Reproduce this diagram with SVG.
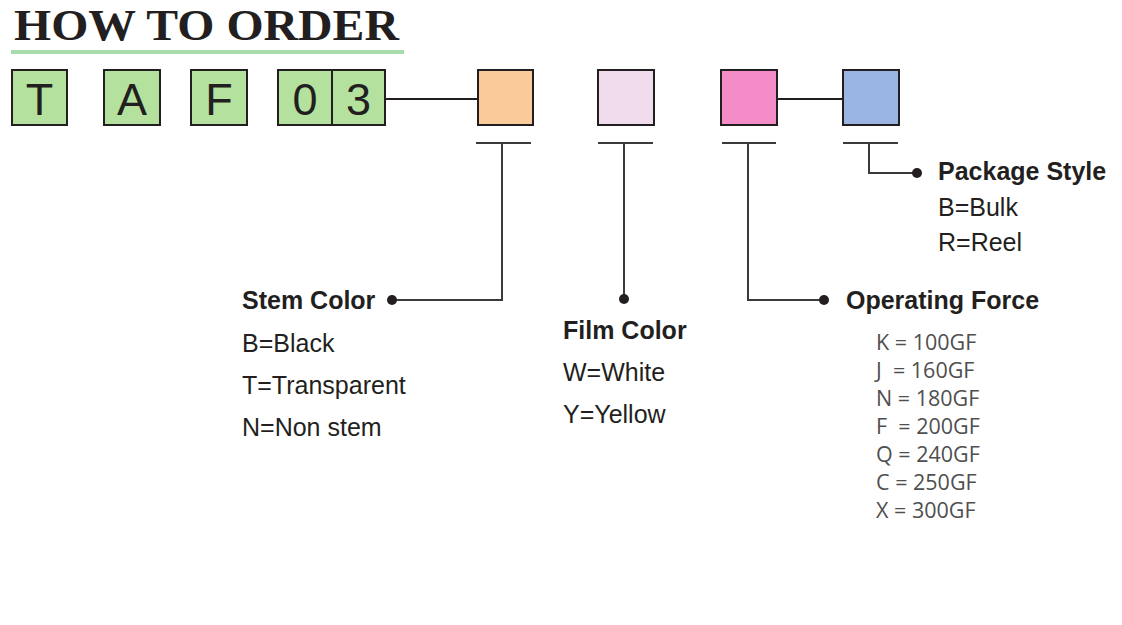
<svg xmlns="http://www.w3.org/2000/svg" width="1122" height="625" viewBox="0 0 1122 625">
<style>
.box{stroke:#231f20;stroke-width:2}
.g{fill:#b4e19d}
.letter{font-family:"Liberation Sans",Arial,sans-serif;font-size:45px;fill:#231f20;text-anchor:middle}
.ln{fill:none;stroke:#231f20;stroke-width:2}
.tee{fill:none;stroke:#3a3a3a;stroke-width:2}
.dot{fill:#231f20}
.h{font-family:"Liberation Sans",Arial,sans-serif;font-size:25px;font-weight:bold;fill:#231f20}
.t{font-family:"Liberation Sans",Arial,sans-serif;font-size:25px;fill:#231f20}
.v{font-family:"Open Sans","Noto Sans",sans-serif;font-size:21.5px;fill:#4f4f4f;white-space:pre}
</style>
<rect width="1122" height="625" fill="#ffffff"/>
<g id="title">
<text x="14" y="40" font-family="'Liberation Serif','Times New Roman',serif" font-size="44.5" font-weight="bold" fill="#231f20" textLength="385" lengthAdjust="spacingAndGlyphs">HOW TO ORDER</text>
<rect x="11" y="50" width="393" height="4" fill="#a8dcaa"/>
</g>
<g id="connectors">
<line class="ln" x1="385" y1="99" x2="478" y2="99"/>
<line class="ln" x1="777" y1="99" x2="843" y2="99"/>
<path class="tee" d="M476 143H531M502 143V300H392"/>
<path class="tee" d="M598 143H653M624 143V299"/>
<path class="tee" d="M722 143H776M748 143V300H824"/>
<path class="tee" d="M843 143H898M869 143V173H917"/>
<circle class="dot" cx="392" cy="300" r="5"/>
<circle class="dot" cx="624" cy="299" r="5"/>
<circle class="dot" cx="824" cy="300" r="5"/>
<circle class="dot" cx="917" cy="173" r="5"/>
</g>
<g id="box-T"><rect class="box g" x="12" y="70" width="55" height="55"/><text class="letter" x="39.5" y="115">T</text></g>
<g id="box-A"><rect class="box g" x="104" y="70" width="56" height="55"/><text class="letter" x="132" y="115">A</text></g>
<g id="box-F"><rect class="box g" x="191" y="70" width="56" height="55"/><text class="letter" x="219" y="115">F</text></g>
<g id="box-03"><rect class="box g" x="278" y="70" width="107" height="55"/><line class="ln" x1="332" y1="70" x2="332" y2="125"/><text class="letter" x="305" y="115">0</text><text class="letter" x="358.5" y="115">3</text></g>
<g id="box-stem"><rect class="box" x="478" y="70" width="55" height="55" fill="#f9cb9b"/></g>
<g id="box-film"><rect class="box" x="598" y="70" width="56" height="55" fill="#f0dcec"/></g>
<g id="box-force"><rect class="box" x="721" y="70" width="56" height="55" fill="#f48cc8"/></g>
<g id="box-package"><rect class="box" x="843" y="70" width="56" height="55" fill="#9bb5e2"/></g>
<g id="label-stem">
<text class="h" x="242" y="309">Stem Color</text>
<text class="t" x="242" y="352">B=Black</text>
<text class="t" x="242" y="394">T=Transparent</text>
<text class="t" x="242" y="436">N=Non stem</text>
</g>
<g id="label-film">
<text class="h" x="563" y="339">Film Color</text>
<text class="t" x="563" y="381">W=White</text>
<text class="t" x="563" y="423">Y=Yellow</text>
</g>
<g id="label-force">
<text class="h" x="846" y="309">Operating Force</text>
<text class="v" x="876" y="350">K = 100GF</text>
<text class="v" x="876" y="378">J  = 160GF</text>
<text class="v" x="876" y="406">N = 180GF</text>
<text class="v" x="876" y="434">F  = 200GF</text>
<text class="v" x="876" y="462">Q = 240GF</text>
<text class="v" x="876" y="490">C = 250GF</text>
<text class="v" x="876" y="518">X = 300GF</text>
</g>
<g id="label-package">
<text class="h" x="938" y="180">Package Style</text>
<text class="t" x="938" y="216">B=Bulk</text>
<text class="t" x="938" y="251">R=Reel</text>
</g>
</svg>
